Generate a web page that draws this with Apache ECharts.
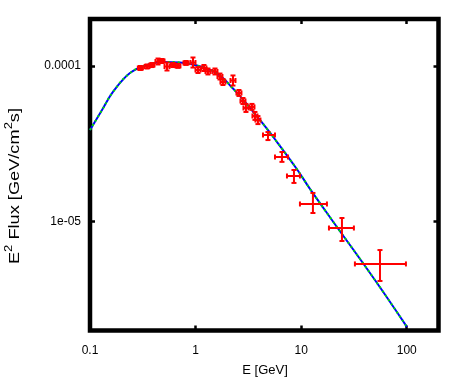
<!DOCTYPE html>
<html>
<head>
<meta charset="utf-8">
<script src="https://cdn.jsdelivr.net/npm/echarts@6/dist/echarts.min.js"></script>
<style>
html,body{margin:0;padding:0;background:#fff;}
#c{width:463px;height:382px;}
</style>
</head>
<body>
<div id="c"></div>
<script>
// ---- data ----
const energy = [0.30, 0.347, 0.387, 0.441, 0.481, 0.536, 0.611, 0.681, 0.811, 0.945, 1.054, 1.201, 1.310, 1.527, 1.702, 1.817, 2.261, 2.576, 2.811, 3.001, 3.421, 3.652, 3.898, 4.85, 6.58, 8.55, 12.93, 24.35, 55.8];
const flux = [9.69e-5, 9.91e-5, 1.013e-4, 1.067e-4, 1.075e-4, 9.91e-5, 1.013e-4, 1.0e-4, 1.044e-4, 1.051e-4, 9.41e-5, 9.69e-5, 9.21e-5, 9.21e-5, 8.55e-5, 7.88e-5, 8.06e-5, 6.70e-5, 5.95e-5, 5.37e-5, 5.45e-5, 4.77e-5, 4.49e-5, 3.60e-5, 2.60e-5, 1.964e-5, 1.298e-5, 9.10e-6, 5.35e-6];
const energyLow = [0.284, 0.329, 0.366, 0.417, 0.455, 0.508, 0.579, 0.645, 0.768, 0.895, 0.998, 1.137, 1.241, 1.446, 1.612, 1.721, 2.141, 2.439, 2.662, 2.842, 3.240, 3.458, 3.691, 4.35, 5.65, 7.34, 9.74, 18.34, 32.3];
const energyHigh = [0.317, 0.366, 0.408, 0.465, 0.508, 0.566, 0.645, 0.719, 0.856, 0.998, 1.113, 1.268, 1.383, 1.612, 1.797, 1.919, 2.388, 2.720, 2.968, 3.169, 3.613, 3.857, 4.116, 5.65, 7.50, 9.74, 17.55, 31.6, 98.3];
const fluxLow = [9.41e-5, 9.62e-5, 9.83e-5, 1.021e-4, 1.044e-4, 9.34e-5, 9.83e-5, 9.71e-5, 1.014e-4, 9.76e-5, 9.00e-5, 9.27e-5, 8.81e-5, 8.81e-5, 8.18e-5, 7.54e-5, 7.48e-5, 6.41e-5, 5.69e-5, 5.06e-5, 5.22e-5, 4.50e-5, 4.23e-5, 3.34e-5, 2.42e-5, 1.772e-5, 1.136e-5, 7.51e-6, 4.16e-6];
const fluxHigh = [9.98e-5, 1.021e-4, 1.043e-4, 1.115e-4, 1.107e-4, 1.051e-4, 1.043e-4, 1.030e-4, 1.075e-4, 1.132e-4, 9.83e-5, 1.013e-4, 9.62e-5, 9.62e-5, 8.93e-5, 8.23e-5, 8.68e-5, 7.00e-5, 6.22e-5, 5.70e-5, 5.70e-5, 5.06e-5, 4.76e-5, 3.76e-5, 2.80e-5, 2.146e-5, 1.528e-5, 1.055e-5, 6.57e-6];

const modelEnergy = [0.1, 0.130, 0.165, 0.239, 0.347, 0.491, 0.711, 1.031, 1.462, 1.817, 2.118, 2.634, 3.275, 4.073, 5.648, 9.13, 12.12, 19.57, 49.98, 100.4];
const modelBlue = [3.88e-5, 5.21e-5, 6.80e-5, 9.00e-5, 1.013e-4, 1.059e-4, 1.051e-4, 1.006e-4, 9.27e-5, 8.36e-5, 7.50e-5, 6.40e-5, 5.37e-5, 4.49e-5, 3.38e-5, 2.17e-5, 1.622e-5, 1.025e-5, 4.22e-6, 2.11e-6];
const modelGreen = [3.88e-5, 5.21e-5, 6.80e-5, 9.00e-5, 1.013e-4, 1.059e-4, 1.051e-4, 1.006e-4, 9.27e-5, 8.36e-5, 7.50e-5, 6.40e-5, 5.37e-5, 4.49e-5, 3.38e-5, 2.17e-5, 1.622e-5, 1.025e-5, 4.22e-6, 2.11e-6];

const xTickValues = [0.1, 1, 10, 100];
const xTickLabels = ['0.1', '1', '10', '100'];
const yTickValues = [1e-5, 1e-4];
const yTickLabels = ['1e-05', '0.0001'];

// ---- chart ----
const FONT = 'Liberation Sans';
function tickFmt(values, labels) {
  return function (v) {
    for (let i = 0; i < values.length; i++) {
      if (Math.abs(Math.log10(v) - Math.log10(values[i])) < 0.005) return labels[i];
    }
    return '';
  };
}

const errData = energy.map((e, i) => [e, flux[i], energyLow[i], energyHigh[i], fluxLow[i], fluxHigh[i]]);
const blueData = modelEnergy.map((e, i) => [e, modelBlue[i]]);
const greenData = modelEnergy.map((e, i) => [e, modelGreen[i]]);

const chart = echarts.init(document.getElementById('c'), null, {renderer: 'canvas'});

const tickStyle = {show: true, inside: true, length: 5, lineStyle: {color: '#000', width: 2.5}};

const option = {
  animation: false,
  backgroundColor: '#fff',
  grid: {left: 90, right: 24.5, top: 19, bottom: 51.5, show: true, borderColor: '#000', borderWidth: 4.5, backgroundColor: 'transparent'},
  xAxis: [
    {type: 'log', logBase: 10, min: 0.1, max: 200, position: 'bottom',
     axisLine: {show: false}, axisTick: tickStyle, splitLine: {show: false},
     axisLabel: {formatter: tickFmt(xTickValues, xTickLabels), margin: 14, color: '#000', fontFamily: FONT, fontSize: 12, showMaxLabel: false}},
    {type: 'log', logBase: 10, min: 0.1, max: 200, position: 'top',
     axisLine: {show: false}, axisTick: tickStyle, splitLine: {show: false}, axisLabel: {show: false}}
  ],
  yAxis: [
    {type: 'log', logBase: 10, min: 2e-6, max: 2e-4, position: 'left',
     axisLine: {show: false}, axisTick: tickStyle, splitLine: {show: false},
     axisLabel: {formatter: tickFmt(yTickValues, yTickLabels), margin: 9, color: '#000', fontFamily: FONT, fontSize: 12, showMinLabel: false, showMaxLabel: false}},
    {type: 'log', logBase: 10, min: 2e-6, max: 2e-4, position: 'right',
     axisLine: {show: false}, axisTick: tickStyle, splitLine: {show: false}, axisLabel: {show: false}}
  ],
  graphic: [
    {type: 'text', x: 265, y: 370, z: 100,
     style: {text: 'E [GeV]', font: '13px "Liberation Sans"', fill: '#000', align: 'center', verticalAlign: 'middle'}},
    {type: 'text', x: 13, y: 186, rotation: Math.PI / 2, scaleX: 1.3, scaleY: 1, z: 100,
     style: {text: '{a|E}{s|2}{a| Flux [GeV/cm}{s|2}{a|s]}', align: 'center', verticalAlign: 'middle', fill: '#000',
       rich: {
         a: {fontFamily: FONT, fontSize: 14, lineHeight: 18, verticalAlign: 'bottom', fill: '#000'},
         s: {fontFamily: FONT, fontSize: 10, lineHeight: 18, verticalAlign: 'top', fill: '#000'}
       }}}
  ],
  series: [
    {type: 'line', data: blueData, xAxisIndex: 0, yAxisIndex: 0, showSymbol: false, smooth: 0.4,
     lineStyle: {color: '#0000ff', width: 2}, z: 3},
    {type: 'line', data: greenData, xAxisIndex: 0, yAxisIndex: 0, showSymbol: false, smooth: 0.4,
     lineStyle: {color: '#00dd00', width: 2, type: [2, 3]}, z: 4},
    {type: 'custom', data: errData, xAxisIndex: 0, yAxisIndex: 0, z: 5,
     encode: {x: 0, y: 1},
     renderItem: function (params, api) {
       const e = api.value(0), f = api.value(1);
       const xl = api.coord([api.value(2), f]);
       const xh = api.coord([api.value(3), f]);
       const yl = api.coord([e, api.value(4)]);
       const yh = api.coord([e, api.value(5)]);
       const cap = 2.5;
       const st = {stroke: '#ff0000', lineWidth: 2};
       const L = (x1, y1, x2, y2) => ({type: 'line', shape: {x1, y1, x2, y2}, style: st});
       return {type: 'group', children: [
         L(xl[0], xl[1], xh[0], xh[1]),
         L(xl[0], xl[1] - cap, xl[0], xl[1] + cap),
         L(xh[0], xh[1] - cap, xh[0], xh[1] + cap),
         L(yl[0], yl[1], yh[0], yh[1]),
         L(yl[0] - cap, yl[1], yl[0] + cap, yl[1]),
         L(yh[0] - cap, yh[1], yh[0] + cap, yh[1])
       ]};
     }}
  ]
};
chart.setOption(option);
</script>
</body>
</html>
